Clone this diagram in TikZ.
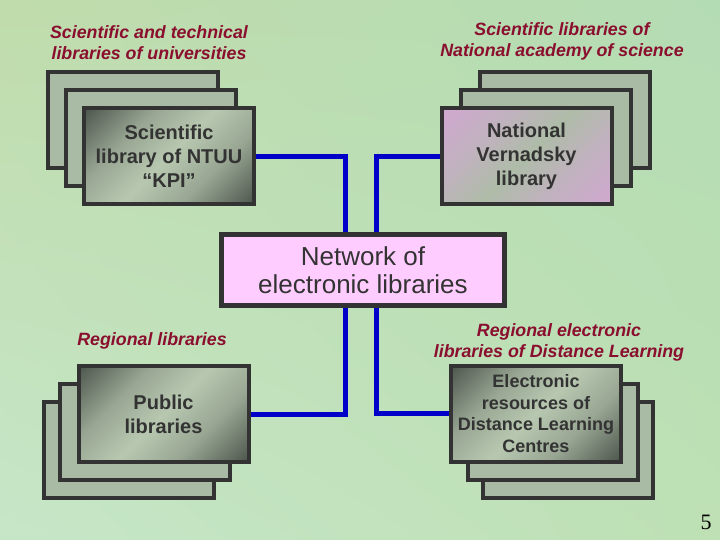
\documentclass[tikz,border=0pt]{standalone}
\usepackage{fontspec}
\usetikzlibrary{shadings}
\setmainfont{Liberation Sans}
\newfontfamily\serifnum{Liberation Serif}
\definecolor{bxd}{HTML}{434B43}
\definecolor{bxm}{HTML}{98A693}
\definecolor{bxl}{HTML}{B8C8B0}
\definecolor{bxback}{HTML}{A9BBA5}
\definecolor{pkd}{HTML}{D4A6D4}
\definecolor{pkm}{HTML}{C0B2BE}
\definecolor{pkl}{HTML}{AEBCA8}
\definecolor{edge}{HTML}{333333}
\definecolor{txt}{HTML}{333333}
\definecolor{lbl}{HTML}{8A0E2E}
\definecolor{netpink}{HTML}{FFCCFF}
\definecolor{conn}{HTML}{0000C8}
\definecolor{bgul}{HTML}{C0DCAC}
\definecolor{bgur}{HTML}{B4DCB4}
\definecolor{bgll}{HTML}{C6E6C8}
\definecolor{bglr}{HTML}{BEE0B4}
\pgfdeclarehorizontalshading{boxgrad}{100bp}{color(0bp)=(bxd); color(12bp)=(bxd); color(34bp)=(bxm); color(50bp)=(bxl); color(66bp)=(bxm); color(88bp)=(bxd); color(100bp)=(bxd)}
\pgfdeclarehorizontalshading{pinkgrad}{100bp}{color(0bp)=(pkd); color(12bp)=(pkd); color(34bp)=(pkm); color(50bp)=(pkl); color(66bp)=(pkm); color(88bp)=(pkd); color(100bp)=(pkd)}
\pgfdeclarelayer{bg}
\pgfdeclarelayer{lines}
\pgfsetlayers{bg,lines,main}
\tikzset{
  card/.style={draw=edge, line width=4pt, minimum width=170pt, minimum height=96pt, inner sep=0pt, align=center, text=txt, font=\bfseries\fontsize{20}{24}\selectfont},
  backcard/.style={card, fill=bxback},
  frontcard/.style={card, shading=boxgrad, shading angle=-45},
  pinkcard/.style={card, shading=pinkgrad, shading angle=-45},
  netbox/.style={draw=edge, line width=5pt, fill=netpink, minimum width=283pt, minimum height=71pt, inner sep=0pt, align=center, text=txt, font=\fontsize{26}{28}\selectfont},
  grouplabel/.style={align=center, text=lbl, font=\bfseries\itshape\fontsize{17.8}{21}\selectfont},
  link/.style={draw=conn, line width=5pt}
}
\begin{document}
\begin{tikzpicture}[x=1pt, y=-1pt]
\useasboundingbox (0,0) rectangle (720,540);
\begin{pgfonlayer}{bg}
\shade[upper left=bgul, upper right=bgur, lower left=bgll, lower right=bglr] (0,0) rectangle (720,540);
\end{pgfonlayer}
% top-left stack
\node[backcard] (tl3) at (133,120) {};
\node[backcard] (tl2) at (150.5,138) {};
\node[frontcard] (sl) at (169,156.5) {Scientific\\library of NTUU\\“KPI”};
% top-right stack
\node[backcard] (tr3) at (565,120) {};
\node[backcard] (tr2) at (545.5,138) {};
\node[pinkcard] (nv) at (526.5,156.5) {National\\Vernadsky\\library};
% bottom-left stack
\node[backcard] (bl3) at (128.5,450) {};
\node[backcard] (bl2) at (145,431.5) {};
\node[frontcard] (pub) at (163.5,414) {Public\\libraries};
% bottom-right stack
\node[backcard] (br3) at (568,450) {};
\node[backcard] (br2) at (553,432) {};
\node[frontcard, font=\bfseries\fontsize{18}{21.5}\selectfont] (el) at (536,413.5) {Electronic\\resources of\\Distance Learning\\Centres};
% centre
\node[netbox] (net) at (363,270) {Network of\\electronic libraries};
% labels
\node[grouplabel] (lab1) at (149,43) {Scientific and technical\\libraries of universities};
\node[grouplabel] (lab2) at (562,41) {Scientific libraries of\\National academy of science};
\node[grouplabel] (lab3) at (152,341) {Regional libraries};
\node[grouplabel] (lab4) at (559,342) {Regional electronic\\libraries of Distance Learning};
\node[font=\serifnum\fontsize{22}{26}\selectfont, text=black] (pg) at (706,522) {5};
% connectors
\begin{pgfonlayer}{lines}
\draw[link] (sl.east) -| ([xshift=-18pt]net.north);
\draw[link] (nv.west) -| ([xshift=13pt]net.north);
\draw[link] ([xshift=-18pt]net.south) |- (pub.east);
\draw[link] ([xshift=13pt]net.south) |- (el.west);
\end{pgfonlayer}
\end{tikzpicture}
\end{document}
